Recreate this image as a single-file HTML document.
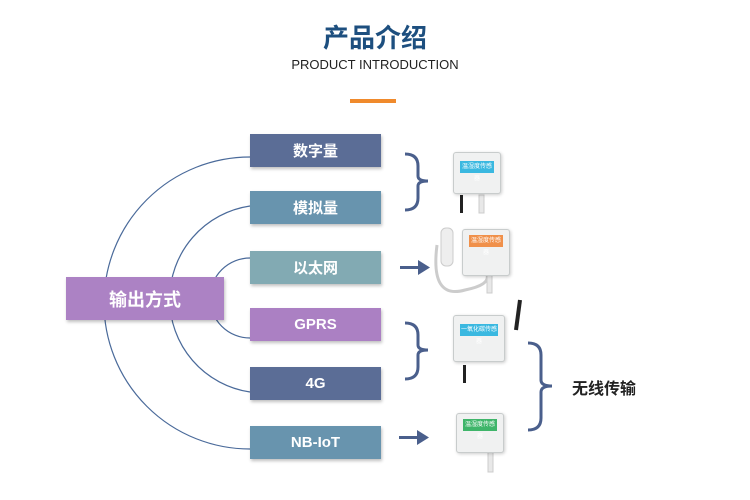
<!DOCTYPE html>
<html><head><meta charset="utf-8"><style>
body{margin:0;width:750px;height:500px;background:#fff;position:relative;overflow:hidden;font-family:"Liberation Sans","Noto Sans CJK SC",sans-serif}
.a{position:absolute}
.b{position:absolute;left:250px;width:131px;height:33px;color:#fff;font-size:15px;font-weight:bold;display:flex;align-items:center;justify-content:center;box-shadow:1px 2px 3px rgba(0,0,0,.25)}
.dev{position:absolute;background:#f0f1f1;border:1px solid #c8cccc;border-radius:3px;box-shadow:1px 1px 3px rgba(0,0,0,.2)}
.lab{position:absolute;left:6px;right:6px;top:8px;height:12px;color:#fff;font-size:6px;text-align:center;line-height:12px}
</style></head><body>
<div class="a" style="left:0;width:750px;top:18px;text-align:center;font-size:26px;color:#1d4f7f;font-weight:bold">产品介绍</div>
<div class="a" style="left:0;width:750px;top:57px;text-align:center;font-size:13px;color:#222">PRODUCT INTRODUCTION</div>
<div class="a" style="left:350px;top:99px;width:46px;height:4px;background:#f08a2c"></div>
<svg class="a" style="left:0;top:0" width="750" height="500">
<g fill="none" stroke="#4a6a9a" stroke-width="1.2">
<path d="M250 157 A146 146 0 0 0 250 449"/>
<path d="M250 206 A94 94 0 0 0 250 392"/>
<path d="M250 258 A40 40 0 0 0 250 338"/>
</g>
<g fill="none" stroke="#4a5f8c" stroke-width="3">
<path d="M405 154 Q418 154 418 166 L418 176 Q418 181 428 181 Q418 181 418 186 L418 198 Q418 210 405 210"/>
<path d="M405 323 Q418 323 418 335 L418 345 Q418 350 428 350 Q418 350 418 355 L418 367 Q418 379 405 379"/>
<path d="M528 343 Q541 343 541 355 L541 380 Q541 386 552 386 Q541 386 541 392 L541 418 Q541 430 528 430"/>
</g>
<g fill="#4a5f8c">
<rect x="400" y="266" width="20" height="3"/><path d="M418 260 L430 267.5 L418 275Z"/>
<rect x="399" y="436" width="20" height="3"/><path d="M417 430 L429 437.5 L417 445Z"/>
</g>
<path d="M520 300 L516 330" stroke="#222" stroke-width="4"/>
<path d="M437 245 Q430 300 465 290 Q490 285 487 275" fill="none" stroke="#ccc" stroke-width="3"/>
<rect x="460" y="195" width="3" height="18" fill="#222"/>
<rect x="463" y="365" width="3" height="18" fill="#222"/>
<rect x="479" y="195" width="5" height="18" fill="#e8e8e8" stroke="#ccc"/>
<rect x="487" y="275" width="5" height="18" fill="#e8e8e8" stroke="#ccc"/>
<rect x="488" y="452" width="5" height="20" fill="#e8e8e8" stroke="#ccc"/>
<rect x="441" y="228" width="12" height="38" rx="5" fill="#eee" stroke="#ccc"/>
</svg>
<div class="b" style="top:134px;background:#5b6d96">数字量</div>
<div class="b" style="top:191px;background:#6894ae">模拟量</div>
<div class="b" style="top:251px;background:#82aab3">以太网</div>
<div class="b" style="top:308px;background:#ab80c3">GPRS</div>
<div class="b" style="top:367px;background:#5b6d96">4G</div>
<div class="b" style="top:426px;background:#6894ae">NB-IoT</div>
<div class="a" style="left:66px;top:277px;width:158px;height:43px;background:#ac82c4;color:#fff;font-size:18px;font-weight:bold;display:flex;align-items:center;justify-content:center;box-shadow:1px 2px 3px rgba(0,0,0,.25)">输出方式</div>
<div class="dev" style="left:453px;top:152px;width:46px;height:40px"><div class="lab" style="background:#3ab8e0">温湿度传感器</div></div>
<div class="dev" style="left:462px;top:229px;width:46px;height:45px"><div class="lab" style="background:#f0904a;top:5px">温湿度传感器</div></div>
<div class="dev" style="left:453px;top:315px;width:50px;height:45px"><div class="lab" style="background:#3ab8e0">一氧化碳传感器</div></div>
<div class="dev" style="left:456px;top:413px;width:46px;height:38px"><div class="lab" style="background:#3fb56a;top:5px">温湿度传感器</div></div>
<div class="a" style="left:572px;top:375px;font-size:16px;font-weight:bold;color:#222">无线传输</div>
</body></html>
